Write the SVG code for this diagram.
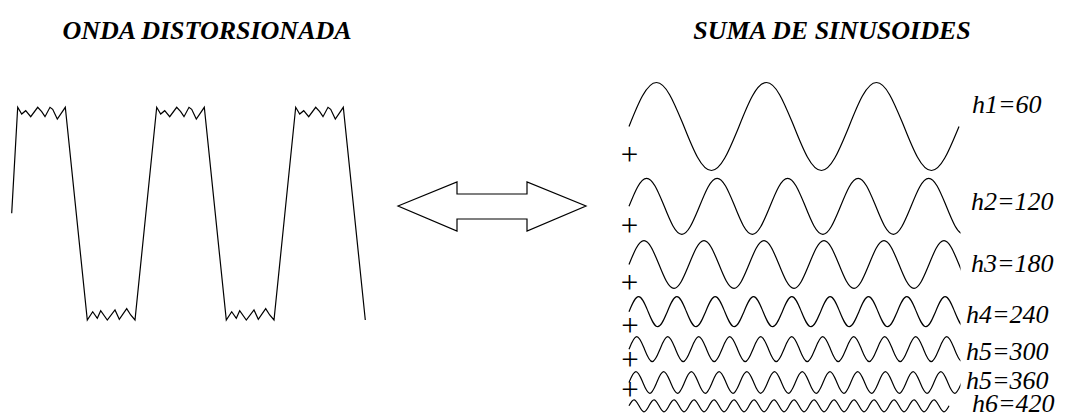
<svg xmlns="http://www.w3.org/2000/svg" width="1068" height="420" viewBox="0 0 1068 420">
<style>
.w{fill:none;stroke:#000;stroke-width:1.2;stroke-linejoin:miter}
.t{font-family:"Liberation Serif","Times New Roman",serif;font-style:italic;font-weight:bold;font-size:26px;fill:#000;text-anchor:middle}
.l{font-family:"Liberation Serif","Times New Roman",serif;font-style:italic;font-size:26px;fill:#000}
.p{font-family:"Liberation Serif","Times New Roman",serif;font-size:31px;fill:#000;text-anchor:middle}
</style>
<defs>
<clipPath id="cl"><rect x="600" y="60" width="360.5" height="360"/></clipPath>
</defs>
<rect width="1068" height="420" fill="#fff"/>
<g id="titles">
<text class="t" x="207" y="39">ONDA DISTORSIONADA</text>
<text class="t" x="832" y="39">SUMA DE SINUSOIDES</text>
</g>
<g id="distorted-wave">
<path class="w" d="M11.7,213.3 L17.7,107.3 l4,6.7 4,-3.3 5,6 7,-9.4 4,4.4 3.3,5 5,-9.4 2.7,2 4.6,9.7 8,-11.7 l22,212.7 l5.4,-8.3 4.6,6.6 3.4,-7.6 6.6,9.3 7.7,-10 4.3,9.3 7.4,-10.6 4,6.3 4.3,5 l21.7,-212.7 l4,6.7 4,-3.3 5,6 7,-9.4 4,4.4 3.3,5 5,-9.4 2.7,2 4.6,9.7 8,-11.7 l22,212.7 l5.4,-8.3 4.6,6.6 3.4,-7.6 6.6,9.3 7.7,-10 4.3,9.3 7.4,-10.6 4,6.3 4.3,5 l21.7,-212.7 l4,6.7 4,-3.3 5,6 7,-9.4 4,4.4 3.3,5 5,-9.4 2.7,2 4.6,9.7 8,-11.7 l22,212.7"/>
</g>
<g id="connectors">
<path class="w" d="M398,206 L457,182 L457,194 L527,194 L527,182 L586,206 L527,231 L527,219 L457,219 L457,231 Z" fill="#fff"/>
</g>
<g clip-path="url(#cl)">
<g id="h1">
<path class="w" d="M629,126.5 c8.97,-22.54 17.55,-44 27.5,-44 c9.95,0 18.53,22.54 27.5,44 c8.97,22.54 17.55,44 27.5,44 c9.950,0 18.53,-22.54 27.5,-44 c8.97,-22.54 17.55,-44 27.5,-44 c9.95,0 18.53,22.54 27.5,44 c8.97,22.54 17.55,44 27.5,44 c9.95,0 18.53,-22.54 27.5,-44 c8.97,-22.54 17.55,-44 27.5,-44 c9.95,0 18.53,22.54 27.5,44 c8.97,22.54 17.55,44 27.5,44 c9.95,0 18.53,-22.54 27.5,-44"/>
</g>
<g id="h2">
<path class="w" d="M629,206.3 c5.75,-14.34 11.25,-28 17.63,-28 c6.38,0 11.88,14.34 17.63,28 c5.75,14.34 11.25,28 17.63,28 c6.38,0 11.88,-14.34 17.63,-28 c5.75,-14.34 11.25,-28 17.63,-28 c6.38,0 11.88,14.34 17.63,28 c5.75,14.34 11.25,28 17.63,28 c6.38,0 11.88,-14.34 17.63,-28 c5.75,-14.34 11.25,-28 17.63,-28 c6.38,0 11.88,14.34 17.63,28 c5.75,14.34 11.25,28 17.63,28 c6.38,0 11.88,-14.34 17.63,-28 c5.75,-14.34 11.25,-28 17.63,-28 c6.38,0 11.88,14.34 17.63,28 c5.75,14.34 11.25,28 17.63,28 c6.38,0 11.88,-14.34 17.63,-28 c5.75,-14.34 11.25,-28 17.63,-28 c6.38,0 11.88,14.34 17.63,28 c5.75,14.34 11.25,28 17.63,28 c6.38,0 11.88,-14.34 17.63,-28"/>
</g>
<g id="h3">
<path class="w" d="M629,264.5 c4.89,-12.19 9.57,-23.8 15,-23.8 c5.43,0 10.11,12.19 15,23.8 c4.89,12.19 9.57,23.8 15,23.8 c5.43,0 10.11,-12.19 15,-23.8 c4.89,-12.19 9.57,-23.8 15,-23.8 c5.43,0 10.11,12.19 15,23.8 c4.89,12.19 9.57,23.8 15,23.8 c5.43,0 10.11,-12.19 15,-23.8 c4.89,-12.19 9.57,-23.8 15,-23.8 c5.43,0 10.11,12.19 15,23.8 c4.89,12.19 9.57,23.8 15,23.8 c5.43,0 10.11,-12.19 15,-23.8 c4.89,-12.19 9.57,-23.8 15,-23.8 c5.43,0 10.11,12.19 15,23.8 c4.89,12.19 9.57,23.8 15,23.8 c5.43,0 10.11,-12.19 15,-23.8 c4.89,-12.19 9.57,-23.8 15,-23.8 c5.43,0 10.11,12.19 15,23.8 c4.89,12.19 9.57,23.8 15,23.8 c5.43,0 10.11,-12.19 15,-23.8 c4.89,-12.19 9.57,-23.8 15,-23.8 c5.43,0 10.11,12.19 15,23.8 c4.89,12.19 9.57,23.8 15,23.8 c5.43,0 10.11,-12.19 15,-23.8"/>
</g>
<g id="h4">
<path class="w" d="M629,311.7 c3.13,-7.69 6.11,-15 9.58,-15 c3.47,0 6.46,7.69 9.58,15 c3.13,7.69 6.11,15 9.58,15 c3.47,0 6.46,-7.69 9.58,-15 c3.13,-7.69 6.11,-15 9.58,-15 c3.47,0 6.46,7.69 9.58,15 c3.13,7.69 6.11,15 9.58,15 c3.47,0 6.46,-7.69 9.58,-15 c3.13,-7.69 6.11,-15 9.58,-15 c3.47,0 6.46,7.69 9.58,15 c3.13,7.69 6.11,15 9.58,15 c3.47,0 6.46,-7.69 9.58,-15 c3.13,-7.69 6.11,-15 9.58,-15 c3.47,0 6.46,7.69 9.58,15 c3.13,7.69 6.11,15 9.58,15 c3.47,0 6.46,-7.69 9.58,-15 c3.13,-7.69 6.11,-15 9.58,-15 c3.47,0 6.46,7.69 9.58,15 c3.13,7.69 6.11,15 9.58,15 c3.47,0 6.46,-7.69 9.58,-15 c3.13,-7.69 6.11,-15 9.58,-15 c3.47,0 6.46,7.69 9.58,15 c3.13,7.69 6.11,15 9.58,15 c3.47,0 6.46,-7.69 9.58,-15 c3.13,-7.69 6.11,-15 9.58,-15 c3.47,0 6.46,7.69 9.58,15 c3.13,7.69 6.11,15 9.58,15 c3.47,0 6.46,-7.69 9.58,-15 c3.13,-7.69 6.11,-15 9.58,-15 c3.47,0 6.46,7.69 9.58,15 c3.13,7.69 6.11,15 9.58,15 c3.47,0 6.46,-7.69 9.58,-15 c3.13,-7.69 6.11,-15 9.58,-15 c3.47,0 6.46,7.69 9.58,15 c3.13,7.69 6.11,15 9.58,15 c3.47,0 6.46,-7.69 9.58,-15"/>
</g>
<g id="h5-300">
<path class="w" d="M629,349.2 c2.53,-6.4 4.95,-12.5 7.75,-12.5 c2.81,0 5.22,6.4 7.75,12.5 c2.53,6.4 4.95,12.5 7.75,12.5 c2.81,0 5.22,-6.4 7.75,-12.5 c2.53,-6.4 4.95,-12.5 7.75,-12.5 c2.81,0 5.22,6.4 7.75,12.5 c2.53,6.4 4.95,12.5 7.75,12.5 c2.81,0 5.22,-6.4 7.75,-12.5 c2.53,-6.4 4.95,-12.5 7.75,-12.5 c2.81,0 5.22,6.4 7.75,12.5 c2.53,6.4 4.95,12.5 7.75,12.5 c2.81,0 5.22,-6.4 7.75,-12.5 c2.53,-6.4 4.95,-12.5 7.75,-12.5 c2.81,0 5.22,6.4 7.75,12.5 c2.53,6.4 4.95,12.5 7.75,12.5 c2.81,0 5.22,-6.4 7.75,-12.5 c2.53,-6.4 4.95,-12.5 7.75,-12.5 c2.81,0 5.22,6.4 7.75,12.5 c2.53,6.4 4.95,12.5 7.75,12.5 c2.81,0 5.22,-6.4 7.75,-12.5 c2.53,-6.4 4.95,-12.5 7.75,-12.5 c2.81,0 5.22,6.4 7.75,12.5 c2.53,6.4 4.95,12.5 7.75,12.5 c2.81,0 5.22,-6.4 7.75,-12.5 c2.53,-6.4 4.95,-12.5 7.75,-12.5 c2.81,0 5.22,6.4 7.75,12.5 c2.53,6.4 4.95,12.5 7.75,12.5 c2.81,0 5.22,-6.4 7.75,-12.5 c2.53,-6.4 4.95,-12.5 7.75,-12.5 c2.81,0 5.22,6.4 7.75,12.5 c2.53,6.4 4.95,12.5 7.75,12.5 c2.81,0 5.22,-6.4 7.75,-12.5 c2.53,-6.4 4.95,-12.5 7.75,-12.5 c2.81,0 5.22,6.4 7.75,12.5 c2.53,6.4 4.95,12.5 7.75,12.5 c2.81,0 5.22,-6.4 7.75,-12.5 c2.53,-6.4 4.95,-12.5 7.75,-12.5 c2.81,0 5.22,6.4 7.75,12.5 c2.53,6.4 4.95,12.5 7.75,12.5 c2.81,0 5.22,-6.4 7.75,-12.5 c2.53,-6.4 4.95,-12.5 7.75,-12.5 c2.81,0 5.22,6.4 7.75,12.5 c2.53,6.4 4.95,12.5 7.75,12.5 c2.81,0 5.22,-6.4 7.75,-12.5"/>
</g>
<g id="h5-360">
<path class="w" d="M629,382.5 c2.26,-5.53 4.42,-10.8 6.93,-10.8 c2.51,0 4.67,5.53 6.93,10.8 c2.26,5.53 4.42,10.8 6.93,10.8 c2.51,0 4.67,-5.53 6.93,-10.8 c2.26,-5.53 4.42,-10.8 6.93,-10.8 c2.51,0 4.67,5.53 6.93,10.8 c2.26,5.53 4.42,10.8 6.93,10.8 c2.51,0 4.67,-5.53 6.93,-10.8 c2.26,-5.53 4.42,-10.8 6.93,-10.8 c2.51,0 4.67,5.53 6.93,10.8 c2.26,5.53 4.42,10.8 6.93,10.8 c2.51,0 4.67,-5.53 6.93,-10.8 c2.26,-5.53 4.42,-10.8 6.93,-10.8 c2.51,0 4.67,5.53 6.93,10.8 c2.26,5.53 4.42,10.8 6.93,10.8 c2.51,0 4.67,-5.53 6.93,-10.8 c2.26,-5.53 4.42,-10.8 6.93,-10.8 c2.51,0 4.67,5.53 6.93,10.8 c2.26,5.53 4.42,10.8 6.93,10.8 c2.51,0 4.67,-5.53 6.93,-10.8 c2.26,-5.53 4.42,-10.8 6.93,-10.8 c2.51,0 4.67,5.53 6.93,10.8 c2.26,5.53 4.42,10.8 6.93,10.8 c2.51,0 4.67,-5.53 6.93,-10.8 c2.26,-5.53 4.42,-10.8 6.93,-10.8 c2.51,0 4.67,5.53 6.93,10.8 c2.26,5.53 4.42,10.8 6.93,10.8 c2.51,0 4.67,-5.53 6.93,-10.8 c2.26,-5.53 4.42,-10.8 6.93,-10.8 c2.51,0 4.67,5.53 6.93,10.8 c2.26,5.53 4.42,10.8 6.93,10.8 c2.51,0 4.67,-5.53 6.93,-10.8 c2.26,-5.53 4.42,-10.8 6.93,-10.8 c2.51,0 4.67,5.53 6.93,10.8 c2.26,5.53 4.42,10.8 6.93,10.8 c2.51,0 4.67,-5.53 6.93,-10.8 c2.26,-5.53 4.42,-10.8 6.93,-10.8 c2.51,0 4.67,5.53 6.93,10.8 c2.26,5.53 4.42,10.8 6.93,10.8 c2.51,0 4.67,-5.53 6.93,-10.8 c2.26,-5.53 4.42,-10.8 6.93,-10.8 c2.51,0 4.67,5.53 6.93,10.8 c2.26,5.53 4.42,10.8 6.93,10.8 c2.51,0 4.67,-5.53 6.93,-10.8 c2.26,-5.53 4.42,-10.8 6.93,-10.8 c2.51,0 4.67,5.53 6.93,10.8 c2.26,5.53 4.42,10.8 6.93,10.8 c2.51,0 4.67,-5.53 6.93,-10.8"/>
</g>
<g id="h6">
<path class="w" d="M629,405.8 c1.63,-3.07 3.19,-6 5,-6 c1.81,0 3.37,3.07 5,6 c1.63,3.07 3.19,6 5,6 c1.81,0 3.37,-3.07 5,-6 c1.63,-3.07 3.19,-6 5,-6 c1.81,0 3.37,3.07 5,6 c1.63,3.07 3.19,6 5,6 c1.81,0 3.37,-3.07 5,-6 c1.63,-3.07 3.19,-6 5,-6 c1.81,0 3.37,3.07 5,6 c1.63,3.07 3.19,6 5,6 c1.81,0 3.37,-3.07 5,-6 c1.63,-3.07 3.19,-6 5,-6 c1.81,0 3.37,3.07 5,6 c1.63,3.07 3.19,6 5,6 c1.81,0 3.37,-3.07 5,-6 c1.63,-3.07 3.19,-6 5,-6 c1.81,0 3.37,3.07 5,6 c1.63,3.07 3.19,6 5,6 c1.81,0 3.37,-3.07 5,-6 c1.63,-3.07 3.19,-6 5,-6 c1.81,0 3.37,3.07 5,6 c1.63,3.07 3.19,6 5,6 c1.81,0 3.37,-3.07 5,-6 c1.63,-3.07 3.19,-6 5,-6 c1.81,0 3.37,3.07 5,6 c1.63,3.07 3.19,6 5,6 c1.81,0 3.37,-3.07 5,-6 c1.63,-3.07 3.19,-6 5,-6 c1.81,0 3.37,3.07 5,6 c1.63,3.07 3.19,6 5,6 c1.81,0 3.37,-3.07 5,-6 c1.63,-3.07 3.19,-6 5,-6 c1.81,0 3.37,3.07 5,6 c1.63,3.07 3.19,6 5,6 c1.81,0 3.37,-3.07 5,-6 c1.63,-3.07 3.19,-6 5,-6 c1.81,0 3.37,3.07 5,6 c1.63,3.07 3.19,6 5,6 c1.81,0 3.37,-3.07 5,-6 c1.63,-3.07 3.19,-6 5,-6 c1.81,0 3.37,3.07 5,6 c1.63,3.07 3.19,6 5,6 c1.81,0 3.37,-3.07 5,-6 c1.63,-3.07 3.19,-6 5,-6 c1.81,0 3.37,3.07 5,6 c1.63,3.07 3.19,6 5,6 c1.81,0 3.37,-3.07 5,-6 c1.63,-3.07 3.19,-6 5,-6 c1.81,0 3.37,3.07 5,6 c1.63,3.07 3.19,6 5,6 c1.81,0 3.37,-3.07 5,-6 c1.63,-3.07 3.19,-6 5,-6 c1.81,0 3.37,3.07 5,6 c1.63,3.07 3.19,6 5,6 c1.81,0 3.37,-3.07 5,-6 c1.63,-3.07 3.19,-6 5,-6 c1.81,0 3.37,3.07 5,6 c1.63,3.07 3.19,6 5,6 c1.81,0 3.37,-3.07 5,-6 c1.63,-3.07 3.19,-6 5,-6 c1.81,0 3.37,3.07 5,6 c1.63,3.07 3.19,6 5,6 c1.81,0 3.37,-3.07 5,-6"/>
</g>
</g>
<g id="plus-signs">
<text class="p" x="629.5" y="165">+</text>
<text class="p" x="629.5" y="235.5">+</text>
<text class="p" x="629.5" y="293">+</text>
<text class="p" x="630" y="335.5">+</text>
<text class="p" x="630" y="369.5">+</text>
<text class="p" x="630" y="399.5">+</text>
</g>
<g id="labels">
<text class="l" x="972" y="113.3">h1=60</text>
<text class="l" x="971" y="210">h2=120</text>
<text class="l" x="971" y="271.7">h3=180</text>
<text class="l" x="966" y="323.3">h4=240</text>
<text class="l" x="966" y="360">h5=300</text>
<text class="l" x="966" y="389">h5=360</text>
<text class="l" x="972" y="412">h6=420</text>
</g>
</svg>
